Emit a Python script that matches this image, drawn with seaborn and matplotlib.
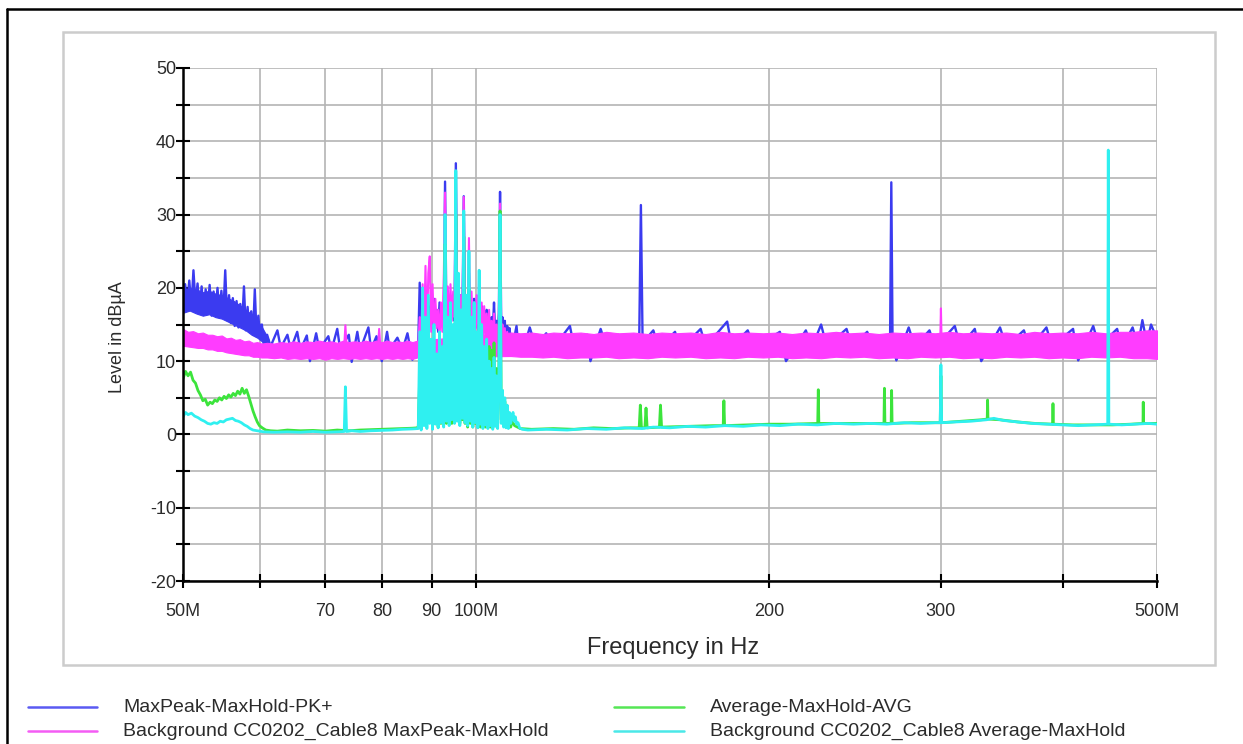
import numpy as np
import pandas as pd
import matplotlib
matplotlib.use("Agg")
import matplotlib.pyplot as plt
from matplotlib.lines import Line2D
from matplotlib.patches import Rectangle
import seaborn as sns

# ---------------------------------------------------------------- data
# Frequencies in MHz, levels in dBuA

# MaxPeak-MaxHold-PK+ : low band (50-87 MHz)
pk_low_freq = [50.0, 50.25, 50.5, 50.75, 51.0, 51.25, 51.5, 51.75, 52.0, 52.25, 52.5, 52.75,
               53.0, 53.25, 53.5, 53.75, 54.0, 54.25, 54.5, 54.75, 55.0, 55.25, 55.5, 55.75,
               56.0, 56.25, 56.5, 56.75, 57.0, 57.25, 57.5, 57.75, 58.0, 58.25, 58.5, 58.75,
               59.0, 59.25, 59.5, 59.75, 60.0, 60.25, 60.5, 61.0, 61.5,
               62.5, 63.0, 64.0, 64.5, 65.5, 66.0, 67.0, 67.5, 68.5, 69.0, 70.5, 71.0, 72.0,
               72.5, 74.0, 74.5, 75.5, 76.0, 77.5, 78.0, 79.0, 80.0, 81.0, 81.5, 83.0, 84.0,
               85.0, 86.0, 86.8]
pk_low_level = [17.5, 20.5, 18.0, 21.0, 17.2, 22.4, 17.8, 20.6, 16.8, 20.2, 16.5, 19.8,
                17.0, 20.4, 16.2, 19.5, 16.8, 20.0, 16.0, 19.6, 16.4, 22.4, 15.6, 19.0,
                15.2, 18.6, 14.8, 18.2, 14.6, 17.8, 15.0, 20.2, 14.2, 17.4, 14.0, 16.8,
                13.6, 19.8, 13.4, 16.2, 13.0, 15.0, 12.4, 13.6, 12.0,
                14.2, 11.8, 13.6, 11.6, 14.0, 11.5, 13.5, 10.0, 13.8, 11.6, 13.4, 11.4, 14.4,
                11.6, 13.6, 9.9, 14.0, 11.5, 14.6, 11.6, 13.4, 10.0, 14.0, 11.6, 13.2, 11.5,
                13.8, 10.2, 12.0]

# MaxPeak-MaxHold-PK+ : envelope of the dense noise below 61 MHz
pk_band_freq = [50.0, 50.8, 51.6, 52.4, 53.2, 54.0, 54.8, 55.6, 56.4, 57.2, 58.0, 58.8,
                59.6, 60.4, 61.2]
pk_band_lo = [16.6, 16.9, 16.5, 16.2, 16.4, 16.0, 15.8, 15.4, 15.0, 14.6, 14.2, 13.6,
              13.2, 12.6, 12.0]
pk_band_hi = [19.6, 20.0, 19.8, 19.4, 19.6, 19.2, 19.0, 18.6, 18.2, 17.6, 17.0, 16.4,
              15.6, 14.4, 13.0]

# MaxPeak-MaxHold-PK+ : high band (109-500 MHz)
pk_high_freq = [109.0, 110.0, 110.5, 112.0, 113.5, 115.0, 118.0, 120.0, 124.8, 126.0, 130.0,
                131.0, 134.2, 136.0, 140.0, 142.0, 147.0, 147.6, 148.2, 152.0, 154.0, 160.0,
                162.0, 170.0, 172.0, 181.0, 183.0, 190.0, 193.0, 205.0, 208.0, 218.0, 221.0,
                226.0, 229.0, 240.0, 243.0, 252.0, 256.0, 266.0, 266.8, 267.6, 270.0, 278.0,
                282.0, 292.0, 296.0, 310.0, 314.0, 325.0, 330.0, 345.0, 350.0, 365.0, 370.0,
                385.0, 390.0, 410.0, 415.0, 430.0, 436.0, 455.0, 460.0, 472.0, 478.0, 483.0,
                488.0, 493.0, 500.0]
pk_high_level = [12.0, 14.8, 11.8, 12.0, 14.6, 12.0, 13.8, 11.8, 14.8, 12.0, 13.6,
                 10.0, 14.4, 12.0, 13.6, 12.0, 12.5, 31.3, 12.5, 14.2, 11.8, 14.0,
                 11.6, 14.4, 12.0, 15.4, 12.0, 14.2, 11.8, 14.0, 10.0, 14.2, 11.8,
                 15.0, 12.0, 14.4, 12.0, 14.0, 11.8, 12.5, 34.4, 12.5, 10.1, 14.6,
                 12.0, 14.2, 11.8, 14.8, 12.0, 14.4, 10.0, 14.6, 12.0, 14.2, 11.8,
                 14.6, 12.0, 14.4, 10.1, 14.8, 12.0, 14.4, 11.8, 14.6, 12.0, 15.6,
                 12.5, 15.0, 13.0]

# Sweep points of the FM broadcast band, shared by all four traces
burst_freq = [87.2, 87.5, 87.8, 88.1, 88.4, 88.7, 89.0, 89.3, 89.6, 89.9, 90.2, 90.5,
              90.8, 91.1, 91.4, 91.7, 92.0, 92.3, 92.6, 92.9, 93.2, 93.5, 93.8, 94.1,
              94.4, 94.7, 95.0, 95.3, 95.6, 95.9, 96.2, 96.5, 96.8, 97.1, 97.4, 97.7,
              98.0, 98.3, 98.6, 98.9, 99.2, 99.5, 99.8, 100.1, 100.4, 100.7, 101.0, 101.3,
              101.6, 101.9, 102.2, 102.5, 102.8, 103.1, 103.4, 103.7, 104.0, 104.3, 104.6, 104.9,
              105.2, 105.5, 105.8, 106.1, 106.4, 106.7, 107.0, 107.3, 107.6, 107.9, 108.2, 108.5]
burst_pk = [12.5, 20.7, 13.0, 18.5, 12.8, 19.5, 14.0, 17.5, 15.0, 19.0, 14.5, 18.5,
            15.5, 17.0, 14.0, 18.0, 15.0, 17.5, 14.5, 34.5, 16.0, 19.5, 15.0, 18.5,
            16.0, 19.0, 15.5, 37.0, 16.5, 20.5, 15.0, 19.0, 16.0, 32.5, 15.5, 18.0,
            14.5, 22.0, 15.0, 17.5, 14.0, 18.5, 15.0, 17.0, 14.5, 19.0, 14.0, 17.5,
            13.5, 16.5, 14.0, 17.0, 13.5, 15.5, 13.0, 16.0, 14.0, 18.0, 13.5, 15.5,
            13.0, 16.5, 33.1, 14.0, 16.0, 13.0, 15.5, 12.5, 14.8, 12.5, 14.5, 12.8]
burst_bg_pk = [12.0, 16.0, 12.5, 20.5, 13.0, 23.0, 13.5, 22.0, 24.3, 14.0, 20.5, 13.5,
               18.5, 14.5, 17.0, 13.0, 18.0, 14.0, 20.5, 33.0, 15.0, 20.2, 14.5, 20.5,
               15.5, 19.5, 16.0, 35.5, 15.5, 21.0, 14.5, 19.0, 15.0, 32.4, 15.0, 18.5,
               14.0, 26.8, 14.5, 19.5, 13.5, 18.0, 14.5, 19.0, 13.5, 22.4, 14.0, 18.0,
               13.0, 17.5, 13.5, 16.5, 12.5, 17.0, 13.0, 15.5, 12.5, 16.5, 12.0, 15.0,
               12.5, 15.5, 31.5, 13.0, 15.0, 12.0, 14.5, 11.5, 14.0, 11.5, 13.5, 11.8]
burst_avg = [1.0, 8.0, 1.5, 11.0, 2.0, 10.0, 1.5, 12.0, 2.5, 9.0, 1.0, 7.5,
             1.5, 6.0, 1.0, 8.0, 1.5, 9.0, 2.0, 26.0, 1.5, 10.0, 2.0, 12.0,
             1.5, 9.5, 2.5, 30.0, 2.0, 14.0, 1.5, 10.0, 2.0, 27.0, 1.5, 11.0,
             1.0, 20.0, 1.5, 9.0, 1.0, 10.5, 1.5, 8.0, 1.0, 15.0, 1.0, 9.0,
             1.5, 8.0, 1.0, 10.0, 1.5, 12.0, 1.0, 11.5, 1.5, 12.5, 2.0, 9.0,
             1.5, 8.0, 30.5, 2.0, 6.0, 1.5, 4.5, 1.2, 3.5, 1.0, 2.5, 1.0]
burst_bg_avg = [0.8, 14.0, 0.6, 20.0, 1.2, 16.0, 0.8, 19.0, 1.5, 13.0, 0.7, 15.0,
                1.4, 11.0, 0.9, 14.0, 1.6, 12.0, 1.0, 30.0, 1.8, 16.0, 1.2, 18.0,
                2.0, 15.0, 1.5, 36.0, 1.8, 22.0, 1.2, 17.0, 2.2, 30.5, 1.6, 19.0,
                1.2, 25.0, 1.8, 16.0, 1.0, 18.0, 1.6, 14.0, 0.9, 22.4, 1.4, 15.0,
                0.8, 12.0, 1.3, 13.0, 0.8, 10.0, 1.2, 9.0, 0.7, 10.5, 1.1, 8.0,
                0.8, 7.0, 30.0, 1.5, 6.0, 1.0, 5.0, 0.9, 4.0, 0.8, 3.0, 1.5]

# Background CC0202_Cable8 MaxPeak-MaxHold : envelope of the noise floor
bg_band_freq = [50.0, 50.6, 51.2, 51.8, 52.4, 53.0, 53.6, 54.2, 54.8, 55.4, 56.0, 56.6,
                57.2, 57.8, 58.4, 59.0, 59.6, 60.2, 61.0, 62.0, 63.0, 64.0, 65.0, 66.0,
                67.0, 68.0, 69.0, 70.0, 71.0, 72.0, 73.0, 74.0, 75.0, 76.0, 77.0, 78.0,
                79.0, 80.0, 81.0, 82.0, 83.0, 84.0, 85.0, 86.0, 87.0,
                108.5, 111.0, 114.0, 117.0, 120.0, 124.0, 128.0, 132.0, 136.0, 140.0,
                145.0, 150.0, 155.0, 160.0, 166.0, 172.0, 178.0, 184.0, 190.0, 197.0,
                204.0, 211.0, 218.0, 226.0, 234.0, 242.0, 250.0, 259.0, 268.0, 277.0,
                286.0, 296.0, 306.0, 316.0, 327.0, 338.0, 350.0, 362.0, 374.0, 387.0,
                400.0, 414.0, 428.0, 443.0, 458.0, 473.0, 488.0, 500.0]
bg_band_lo = [12.1, 12.0, 11.9, 11.8, 11.8, 11.6, 11.6, 11.4, 11.4, 11.2, 11.1, 11.0,
              10.9, 10.8, 10.8, 10.6, 10.6, 10.5, 10.5, 10.4, 10.5, 10.3, 10.4, 10.3,
              10.4, 10.3, 10.4, 10.2, 10.4, 10.3, 10.4, 10.3, 10.4, 10.3, 10.4, 10.3,
              10.4, 10.3, 10.4, 10.3, 10.4, 10.3, 10.4, 10.3, 10.5,
              10.7, 10.6, 10.6, 10.5, 10.6, 10.4, 10.5, 10.5, 10.6, 10.4,
              10.5, 10.4, 10.6, 10.5, 10.6, 10.4, 10.5, 10.4, 10.6, 10.5,
              10.6, 10.4, 10.5, 10.4, 10.6, 10.5, 10.6, 10.4, 10.5, 10.4,
              10.6, 10.5, 10.6, 10.4, 10.5, 10.4, 10.6, 10.5, 10.6, 10.4,
              10.5, 10.4, 10.6, 10.5, 10.6, 10.4, 10.4, 10.3]
bg_band_hi = [14.4, 14.0, 14.1, 13.8, 13.9, 13.6, 13.6, 13.4, 13.5, 13.1, 13.2, 12.9,
              13.0, 12.7, 12.8, 12.5, 12.6, 12.4, 12.5, 12.4, 12.6, 12.5, 12.7, 12.5,
              12.7, 12.6, 12.8, 12.6, 12.7, 12.5, 12.8, 12.6, 12.7, 12.6, 12.8, 12.6,
              12.8, 12.6, 12.8, 12.6, 12.7, 12.6, 12.8, 12.6, 12.8,
              13.9, 13.8, 13.9, 13.7, 13.9, 13.8, 13.9, 13.7, 14.0, 13.8,
              13.9, 13.7, 13.9, 13.8, 13.9, 13.7, 14.0, 13.8, 13.9, 13.8,
              13.9, 13.7, 13.9, 13.8, 14.0, 13.8, 13.9, 13.7, 13.9, 13.8,
              13.9, 13.8, 14.0, 13.8, 13.9, 13.8, 13.9, 13.7, 14.0, 13.8,
              13.9, 13.8, 14.0, 13.8, 14.0, 14.0, 14.2, 14.2]

# Background CC0202_Cable8 MaxPeak-MaxHold : isolated peaks outside the FM band
bg_pk_spike_freq = [73.2, 73.4, 73.6, 79.3, 79.5, 79.7, 299.5, 300.0, 300.5]
bg_pk_spike_level = [12.0, 14.9, 12.0, 12.2, 14.4, 12.2, 12.5, 17.2, 12.5]

# Average-MaxHold-AVG : outside the FM band
avg_low_freq = [50.0, 50.3, 50.6, 50.9, 51.2, 51.5, 51.8, 52.1, 52.4, 52.7, 53.0, 53.3,
                53.6, 53.9, 54.2, 54.5, 54.8, 55.1, 55.4, 55.7, 56.0, 56.3, 56.6, 56.9,
                57.2, 57.5, 57.8, 58.1, 58.4, 58.7, 59.0, 59.3, 59.6, 59.9, 60.3, 60.8,
                61.5, 62.5, 64.0, 66.0, 68.0, 70.0, 72.0, 74.0, 76.0, 78.0, 80.0, 82.0,
                84.0, 86.0, 87.0]
avg_low_level = [7.6, 8.6, 8.0, 8.5, 7.4, 7.0, 6.0, 5.4, 4.6, 4.8, 4.0, 4.4,
                 4.2, 4.7, 4.5, 5.0, 4.7, 5.2, 4.9, 5.4, 5.1, 5.6, 5.3, 5.9,
                 5.5, 6.3, 5.6, 6.1, 5.2, 4.2, 3.2, 2.4, 1.7, 1.2, 0.9, 0.6,
                 0.5, 0.45, 0.6, 0.5, 0.55, 0.45, 0.6, 0.5, 0.6, 0.65, 0.7, 0.75,
                 0.8, 0.85, 0.9]
avg_high_freq = [108.8, 109.5, 111.0, 114.0, 120.0, 126.0, 132.0, 138.0, 144.0, 147.0,
                 147.4, 147.8, 149.0, 149.4, 149.8, 154.2, 154.6, 155.0, 165.0, 175.0,
                 179.3, 179.6, 179.9, 190.0, 200.0, 210.0, 224.2, 224.5, 224.8, 240.0,
                 255.0, 262.2, 262.5, 262.8, 266.7, 267.0, 267.3, 280.0, 295.0, 299.5,
                 300.0, 300.5, 315.0, 330.0, 334.7, 335.0, 335.3, 345.0, 360.0, 375.0,
                 390.7, 391.0, 391.3, 410.0, 430.0, 450.0, 470.0, 483.7, 484.0, 484.3,
                 500.0]
avg_high_level = [1.8, 1.2, 0.8, 0.7, 0.8, 0.7, 0.9, 0.8, 0.9, 0.9,
                  4.0, 0.9, 0.9, 3.6, 0.9, 1.0, 4.0, 1.0, 1.1, 1.2,
                  1.2, 4.6, 1.2, 1.3, 1.4, 1.4, 1.5, 6.1, 1.5, 1.5,
                  1.5, 1.5, 6.3, 1.5, 1.5, 6.0, 1.5, 1.6, 1.6, 1.6,
                  8.0, 1.6, 1.8, 2.0, 2.1, 4.7, 2.1, 2.0, 1.7, 1.5,
                  1.4, 4.2, 1.4, 1.3, 1.3, 1.3, 1.4, 1.5, 4.4, 1.5,
                  1.5]

# Background CC0202_Cable8 Average-MaxHold : outside the FM band
bg_avg_low_freq = [50.0, 50.3, 50.6, 51.0, 51.4, 51.8, 52.2, 52.6, 53.0, 53.4, 53.8, 54.2,
                   54.6, 55.0, 55.4, 55.8, 56.2, 56.6, 57.0, 57.4, 57.8, 58.2, 58.6, 59.0,
                   59.6, 60.5, 62.0, 64.0, 66.0, 68.0, 70.0, 72.0, 73.2, 73.4, 73.6, 74.5,
                   76.0, 78.0, 80.0, 82.0, 84.0, 86.0, 87.0]
bg_avg_low_level = [2.4, 3.0, 2.7, 2.9, 2.5, 2.3, 2.0, 1.8, 1.5, 1.4, 1.6, 1.5,
                    1.8, 1.7, 2.0, 2.1, 2.2, 1.9, 1.8, 1.6, 1.3, 1.1, 0.8, 0.6,
                    0.5, 0.35, 0.3, 0.35, 0.3, 0.4, 0.3, 0.35, 0.4, 6.5, 0.4, 0.5,
                    0.4, 0.5, 0.55, 0.6, 0.7, 0.75, 0.8]
bg_avg_high_freq = [108.8, 109.1, 109.4, 109.7, 110.0, 110.4, 110.8, 111.5, 113.0, 118.0,
                    124.0, 130.0, 136.0, 142.0, 148.0, 152.0, 158.0, 165.0, 172.0, 180.0,
                    188.0, 196.0, 205.0, 214.0, 224.0, 234.0, 244.0, 254.0, 264.0, 275.0,
                    286.0, 296.0, 299.5, 300.0, 300.5, 310.0, 322.0, 334.0, 340.0, 348.0,
                    360.0, 372.0, 386.0, 400.0, 415.0, 430.0, 445.0, 445.6, 446.2, 460.0,
                    475.0, 490.0, 500.0]
bg_avg_high_level = [2.5, 3.0, 1.8, 2.4, 1.4, 1.6, 0.9, 0.7, 0.6, 0.7,
                     0.6, 0.8, 0.7, 0.9, 0.8, 1.0, 0.9, 1.1, 1.0, 1.2,
                     1.1, 1.3, 1.2, 1.4, 1.3, 1.5, 1.4, 1.5, 1.4, 1.6,
                     1.5, 1.6, 1.6, 9.5, 1.6, 1.7, 1.8, 2.0, 2.2, 1.9,
                     1.7, 1.5, 1.4, 1.3, 1.2, 1.3, 1.4, 38.8, 1.4, 1.3,
                     1.4, 1.5, 1.4]

labels = ["MaxPeak-MaxHold-PK+",
          "Background CC0202_Cable8 MaxPeak-MaxHold",
          "Average-MaxHold-AVG",
          "Background CC0202_Cable8 Average-MaxHold"]
x_ticks = [50, 60, 70, 80, 90, 100, 200, 300, 400, 500]
x_tick_labels = ["50M", "", "70", "80", "90", "100M", "200", "300", "", "500M"]
y_ticks = [-20, -15, -10, -5, 0, 5, 10, 15, 20, 25, 30, 35, 40, 45, 50]
y_tick_labels = ["-20", "", "-10", "", "0", "", "10", "", "20", "", "30", "", "40", "", "50"]

# ---------------------------------------------------------------- style
sns.set_theme(style="white")
plt.rcParams["font.family"] = ["Liberation Sans", "DejaVu Sans"]

C_PK = "#3b3bf0"
C_BG_PK = "#ff3cff"
C_AVG = "#3ce43c"
C_BG_AVG = "#2ff0f0"
TXT = "#2b2b2b"
GRID = "#b4b4b4"

W, H = 1243, 744
fig = plt.figure(figsize=(W / 100, H / 100), dpi=100)
fig.patch.set_facecolor("white")


def fx(px):
    return px / W


def fy(py):
    return 1 - py / H


# page frame and panel
fig.add_artist(Line2D([fx(7), fx(7)], [fy(9), 0], color="black", lw=1.8))
fig.add_artist(Line2D([fx(7), 1], [fy(9), fy(9)], color="black", lw=1.8))
fig.add_artist(Rectangle((fx(63), fy(665)), fx(1215) - fx(63), fy(32) - fy(665),
                         facecolor="none", edgecolor="#cccccc", lw=1.8))

ax = fig.add_axes([fx(183), fy(581), fx(1157) - fx(183), fy(68) - fy(581)])
ax.set_facecolor("white")


def trace(freq, level):
    return pd.DataFrame({"freq": freq, "level": level})


pk = trace(pk_low_freq + burst_freq + pk_high_freq,
           pk_low_level + burst_pk + pk_high_level)
bg_pk = trace(bg_pk_spike_freq[:6] + burst_freq + bg_pk_spike_freq[6:],
              bg_pk_spike_level[:6] + burst_bg_pk + bg_pk_spike_level[6:])
avg = trace(avg_low_freq + burst_freq + avg_high_freq,
            avg_low_level + burst_avg + avg_high_level)
bg_avg = trace(bg_avg_low_freq + burst_freq + bg_avg_high_freq,
               bg_avg_low_level + burst_bg_avg + bg_avg_high_level)

line_kw = dict(x="freq", y="level", estimator=None, errorbar=None, sort=False, ax=ax,
               legend=False)
ax.fill_between(pk_band_freq, pk_band_lo, pk_band_hi, color=C_PK, lw=0.8,
                edgecolor=C_PK, zorder=2)
sns.lineplot(data=pk, color=C_PK, lw=1.7, zorder=2, **line_kw)
ax.fill_between(bg_band_freq, bg_band_lo, bg_band_hi, color=C_BG_PK, lw=0.8,
                edgecolor=C_BG_PK, zorder=3)
sns.lineplot(data=bg_pk, color=C_BG_PK, lw=1.5, zorder=3, **line_kw)
sns.lineplot(data=avg, color=C_AVG, lw=2.0, zorder=4, **line_kw)
sns.lineplot(data=bg_avg, color=C_BG_AVG, lw=2.0, zorder=5, **line_kw)

# axes
ax.set_xscale("log")
ax.set_xlim(50, 500)
ax.set_ylim(-20, 50)
ax.set_xticks(x_ticks)
ax.set_xticklabels(x_tick_labels)
ax.xaxis.set_minor_locator(matplotlib.ticker.NullLocator())
ax.set_yticks(y_ticks)
ax.set_yticklabels(y_tick_labels)
ax.grid(True, color=GRID, lw=1.2, zorder=0)
ax.set_axisbelow(True)
for side in ("top", "right"):
    ax.spines[side].set_visible(False)
for side in ("left", "bottom"):
    ax.spines[side].set_color("black")
    ax.spines[side].set_linewidth(1.8)
    ax.spines[side].set_zorder(6)
ax.tick_params(axis="both", which="major", direction="inout", length=10, width=1.5,
               color="black", labelsize=13, labelcolor=TXT, left=True, bottom=True)
ax.tick_params(axis="x", pad=11)
ax.tick_params(axis="y", pad=0)

ax.set_xlabel("Frequency in Hz", fontsize=17, color=TXT, va="center")
ax.xaxis.set_label_coords((673 - 183) / 974, -(648 - 581) / 513)
ax.set_ylabel("Level in dBµA", fontsize=13, color=TXT, va="center")
ax.yaxis.set_label_coords((118 - 183) / 974, (581 - 337) / 513)

# legend below the panel
legend_rows = [(707, 28, 97, 123, labels[0], "#5a5af2"),
               (731, 28, 97, 123, labels[1], "#f45cf4"),
               (707, 614, 684, 710, labels[2], "#55e655"),
               (731, 614, 684, 710, labels[3], "#4ae8e8")]
for y, x0, x1, xt, text, col in legend_rows:
    fig.add_artist(Line2D([fx(x0), fx(x1)], [fy(y), fy(y)], color=col, lw=1.8))
    fig.text(fx(xt), fy(y), text, fontsize=14, color=TXT, ha="left", va="center")

fig.savefig("out.png", dpi=100, facecolor="white")
